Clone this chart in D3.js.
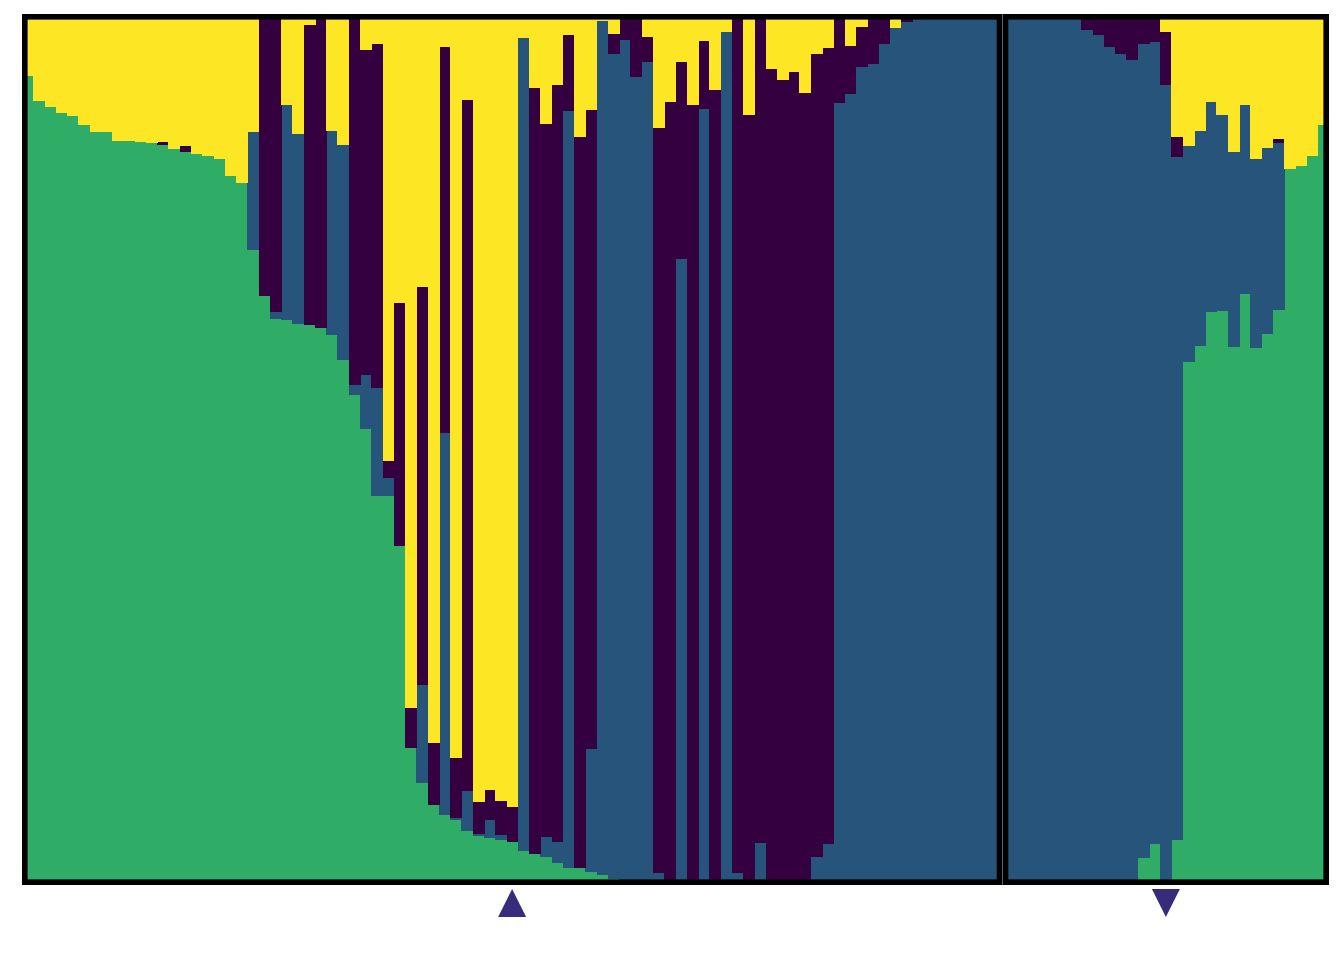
<!DOCTYPE html>
<html>
<head>
<meta charset="utf-8">
<script src="https://cdn.jsdelivr.net/npm/d3@7"></script>
<style>
  html, body { margin: 0; padding: 0; background: #ffffff; }
  svg { display: block; }
</style>
</head>
<body>
<div id="chart"></div>
<script>
// ---- data: ancestry proportions per individual (bottom -> top: green, blue, purple, yellow)
const clusterKeys = ["green", "blue", "purple", "yellow"];
const clusterColors = ["#2fac66", "#26547b", "#350040", "#fde725"];

// left panel (87 individuals)
const greenLeft = [
  0.929,0.900,0.893,0.886,0.883,0.873,0.865,0.865,0.854,0.854,
  0.853,0.852,0.850,0.845,0.842,0.839,0.837,0.834,0.814,0.806,
  0.729,0.676,0.650,0.649,0.644,0.643,0.639,0.631,0.603,0.563,
  0.524,0.447,0.447,0.389,0.157,0.117,0.092,0.080,0.075,0.062,
  0.056,0.054,0.052,0.049,0.039,0.036,0.032,0.025,0.020,0.020,
  0.015,0.011,0.007,0,0,0,0,0,0,0,
  0,0,0,0,0,0,0,0,0,0,
  0,0,0,0,0,0,0,0,0,0,
  0,0,0,0,0,0,0
];
const blueLeft = [
  0,0,0,0,0,0,0,0,0,0,
  0,0,0,0,0,0,0,0,0,0,
  0.135,0,0.008,0.247,0.218,0,0,0.235,0.247,0.011,
  0.062,0.124,0.020,0,0,0.113,0,0.439,0.002,0.046,
  0.003,0.021,0.005,0,0.933,0,0.023,0.024,0.869,0,
  0.141,0.981,0.947,0.970,0.928,0.945,0.014,0,0.719,0.006,
  0.891,0.005,0.979,0.014,0,0.048,0,0,0,0,
  0.032,0.047,0.898,0.908,0.939,0.943,0.966,0.984,0.991,1,
  1,1,1,1,1,1,1
];
const purpleLeft = [
  0,0,0,0,0,0,0,0,0,0,
  0,0,0.003,0,0.007,0,0,0,0,0,
  0,0.324,0.342,0,0,0.344,0.361,0,0,0.426,
  0.373,0.395,0.020,0.279,0.046,0.457,0.071,0.443,0.069,0.793,
  0.036,0.034,0.039,0.040,0,0.879,0.819,0.870,0.087,0.839,
  0.734,0,0.023,0.030,0.072,0.029,0.855,0.899,0.226,0.889,
  0.078,0.908,0,0.984,0.884,0.952,0.937,0.924,0.933,0.909,
  0.922,0.914,0.102,0.055,0.046,0.057,0.034,0,0.009,0,
  0,0,0,0,0,0,0
];
const yellowLeft = [
  0.071,0.100,0.107,0.114,0.117,0.127,0.135,0.135,0.146,0.146,
  0.147,0.148,0.147,0.155,0.151,0.161,0.163,0.166,0.186,0.194,
  0.136,0,0,0.104,0.138,0.013,0,0.134,0.150,0,
  0.041,0.034,0.513,0.332,0.797,0.313,0.837,0.038,0.854,0.099,
  0.905,0.891,0.904,0.911,0.028,0.085,0.126,0.081,0.024,0.141,
  0.110,0.008,0.023,0,0,0.026,0.131,0.101,0.055,0.105,
  0.031,0.087,0.021,0.002,0.116,0,0.063,0.076,0.067,0.091,
  0.046,0.039,0,0.037,0.015,0,0,0.016,0,0,
  0,0,0,0,0,0,0
];

// right panel (29 individuals)
const greenRight = [
  0,0,0,0,0,0,0,0,0,0,
  0,0,0.031,0.047,0,0.052,0.600,0.619,0.658,0.659,
  0.618,0.679,0.617,0.633,0.660,0.822,0.825,0.837,0.873
];
const blueRight = [
  1,1,1,1,1,1,1,0.982,0.976,0.962,
  0.954,0.947,0.935,0.921,0.918,0.784,0.249,0.247,0.241,0.225,
  0.223,0.216,0.216,0.213,0.192,0,0,0,0
];
const purpleRight = [
  0,0,0,0,0,0,0,0.018,0.024,0.038,
  0.046,0.053,0.034,0.032,0.061,0.023,0,0,0,0,
  0,0,0,0,0.005,0,0,0,0
];
const yellowRight = [
  0,0,0,0,0,0,0,0,0,0,
  0,0,0,0,0.021,0.141,0.151,0.134,0.101,0.116,
  0.159,0.105,0.167,0.154,0.143,0.178,0.175,0.163,0.127
];

// marked individuals (index in panel)
const markerLeftIndex = 43;   // upward triangle
const markerRightIndex = 14;  // downward triangle
const markerColor = "#372b7c";

// ---- build
const W = 1344, H = 960;
const svg = d3.select("#chart").append("svg")
  .attr("width", W).attr("height", H)
  .attr("viewBox", `0 0 ${W} ${H}`);

const y = d3.scaleLinear().domain([0, 1]).range([885, 14]);

function buildRows(g, b, p, yl) {
  return g.map((v, i) => ({ id: i, green: v, blue: b[i], purple: p[i], yellow: yl[i] }));
}

const panels = [
  { rows: buildRows(greenLeft, blueLeft, purpleLeft, yellowLeft), x0: 22, x1: 1002.3 },
  { rows: buildRows(greenRight, blueRight, purpleRight, yellowRight), x0: 1002.7, x1: 1329 }
];

const stackGen = d3.stack().keys(clusterKeys);
const color = d3.scaleOrdinal().domain(clusterKeys).range(clusterColors);
const spineW = 5.6;

panels.forEach((panel, pi) => {
  const x = d3.scaleBand()
    .domain(panel.rows.map(d => d.id))
    .range([panel.x0, panel.x1])
    .padding(0);
  panel.x = x;

  const clipId = "clip" + pi;
  svg.append("clipPath").attr("id", clipId)
    .append("rect")
    .attr("x", panel.x0).attr("y", 14)
    .attr("width", panel.x1 - panel.x0).attr("height", 871);

  const g = svg.append("g").attr("clip-path", `url(#${clipId})`);
  const series = stackGen(panel.rows);

  g.selectAll("g.layer")
    .data(series)
    .join("g")
    .attr("class", "layer")
    .attr("fill", s => color(s.key))
    .selectAll("rect")
    .data(s => s)
    .join("rect")
    .attr("x", d => x(d.data.id))
    .attr("width", x.bandwidth() + 0.6)
    .attr("y", d => y(Math.min(1, d[1])))
    .attr("height", d => Math.max(0, y(d[0]) - y(Math.min(1, d[1]))))
    .attr("shape-rendering", "crispEdges");

  // frame drawn inside the panel
  svg.append("rect")
    .attr("x", panel.x0 + spineW / 2)
    .attr("y", 14 + spineW / 2)
    .attr("width", panel.x1 - panel.x0 - spineW)
    .attr("height", 871 - spineW)
    .attr("fill", "none")
    .attr("stroke", "#000")
    .attr("stroke-width", spineW);
});

// markers
const xl = panels[0].x, xr = panels[1].x;
const upX = xl(markerLeftIndex) + xl.bandwidth() / 2;
const downX = xr(markerRightIndex) + xr.bandwidth() / 2;
const triTop = 889, triBot = 917, triHalf = 14;

svg.append("path")
  .attr("d", `M${upX},${triTop} L${upX + triHalf},${triBot} L${upX - triHalf},${triBot} Z`)
  .attr("fill", markerColor);
svg.append("path")
  .attr("d", `M${downX - triHalf},${triTop} L${downX + triHalf},${triTop} L${downX},${triBot} Z`)
  .attr("fill", markerColor);
</script>
</body>
</html>
